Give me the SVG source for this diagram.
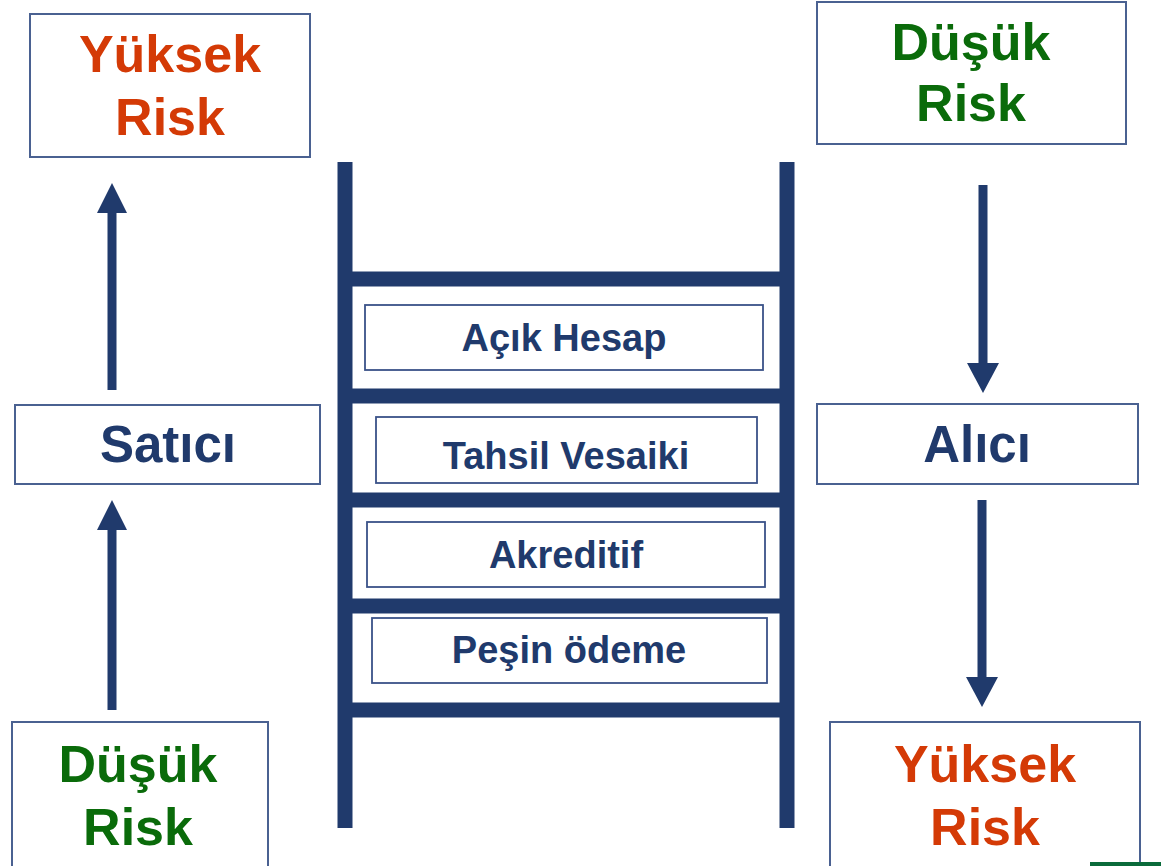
<svg xmlns="http://www.w3.org/2000/svg" width="1161" height="866" viewBox="0 0 1161 866">
<style>
.box{fill:#fff;stroke:#4a6191;stroke-width:2}
.ibox{fill:#fff;stroke:#3a5288;stroke-width:1.8}
.t{font-family:"Liberation Sans",Arial,sans-serif;font-weight:bold;text-anchor:middle}
.red{fill:#d43a06;font-size:52px}
.green{fill:#0a6b0a;font-size:52px}
.navy{fill:#203a6c;font-size:51px}
.lbl{fill:#203a6c;font-size:38px}
.rail{stroke:#203a6c;stroke-width:15;fill:none}
.shaft{stroke:#203a6c;stroke-width:9;fill:none}
.head{fill:#203a6c}
</style>
<rect width="1161" height="866" fill="#fff"/>
<g id="connectors">
  <line class="shaft" x1="112" y1="390" x2="112" y2="210"/>
  <polygon class="head" points="112,183 97,213 127,213"/>
  <line class="shaft" x1="112" y1="710" x2="112" y2="527"/>
  <polygon class="head" points="112,500 97,530 127,530"/>
  <line class="shaft" x1="983" y1="185" x2="983" y2="366"/>
  <polygon class="head" points="983,393 967,363 999,363"/>
  <line class="shaft" x1="982" y1="500" x2="982" y2="680"/>
  <polygon class="head" points="982,707 966,677 998,677"/>
</g>
<g id="ladder">
  <line class="rail" x1="345" y1="162" x2="345" y2="828"/>
  <line class="rail" x1="787" y1="162" x2="787" y2="828"/>
  <line class="rail" x1="345" y1="279" x2="787" y2="279"/>
  <line class="rail" x1="345" y1="396" x2="787" y2="396"/>
  <line class="rail" x1="345" y1="500" x2="787" y2="500"/>
  <line class="rail" x1="345" y1="606" x2="787" y2="606"/>
  <line class="rail" x1="345" y1="710" x2="787" y2="710"/>
</g>
<g id="acik-hesap">
  <rect class="ibox" x="365" y="305" width="398" height="65"/>
  <text class="t lbl" x="564" y="351">Açık Hesap</text>
</g>
<g id="tahsil-vesaiki">
  <rect class="ibox" x="376" y="417" width="381" height="66"/>
  <text class="t lbl" x="566" y="469">Tahsil Vesaiki</text>
</g>
<g id="akreditif">
  <rect class="ibox" x="367" y="522" width="398" height="65"/>
  <text class="t lbl" x="566" y="568">Akreditif</text>
</g>
<g id="pesin-odeme">
  <rect class="ibox" x="372" y="618" width="395" height="65"/>
  <text class="t lbl" x="569" y="663">Peşin ödeme</text>
</g>
<g id="yuksek-risk-left">
  <rect class="box" x="30" y="14" width="280" height="143"/>
  <text class="t red" x="170" y="72">Yüksek</text>
  <text class="t red" x="170" y="135">Risk</text>
</g>
<g id="dusuk-risk-right">
  <rect class="box" x="817" y="2" width="309" height="142"/>
  <text class="t green" x="971" y="60">Düşük</text>
  <text class="t green" x="971" y="121">Risk</text>
</g>
<g id="satici">
  <rect class="box" x="15" y="405" width="305" height="79"/>
  <text class="t navy" x="168" y="462">Satıcı</text>
</g>
<g id="alici">
  <rect class="box" x="817" y="404" width="321" height="80"/>
  <text class="t navy" x="977" y="462">Alıcı</text>
</g>
<g id="dusuk-risk-left">
  <rect class="box" x="12" y="722" width="256" height="150"/>
  <text class="t green" x="138" y="782">Düşük</text>
  <text class="t green" x="138" y="845">Risk</text>
</g>
<g id="yuksek-risk-right">
  <rect class="box" x="830" y="722" width="310" height="150"/>
  <text class="t red" x="985" y="782">Yüksek</text>
  <text class="t red" x="985" y="845">Risk</text>
</g>
<rect x="1090" y="862" width="71" height="4" fill="#0a6b3a"/>
</svg>
